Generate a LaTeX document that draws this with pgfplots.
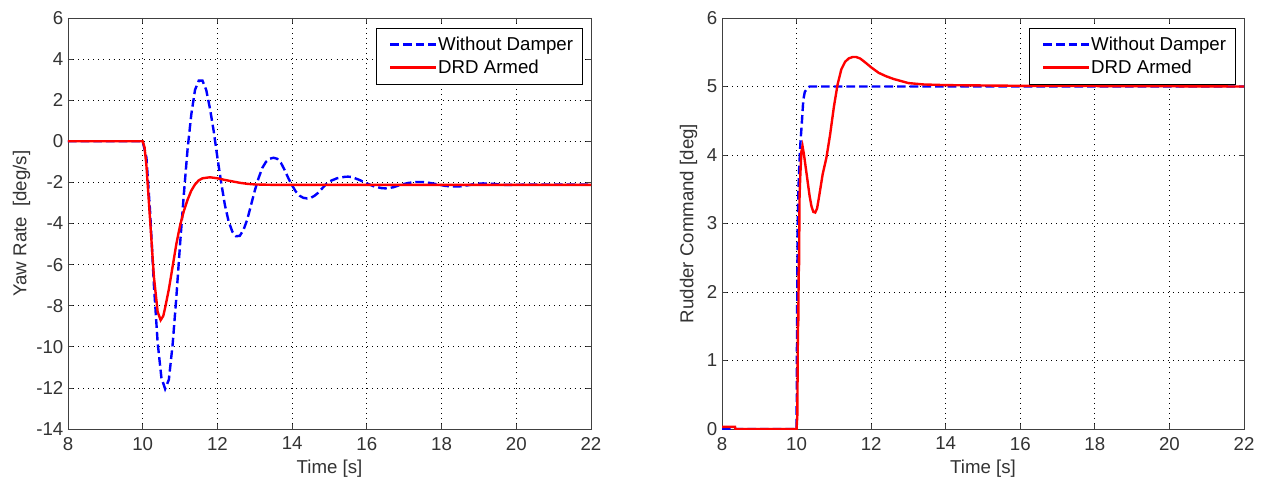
\documentclass[border=0pt]{standalone}
\usepackage{fontspec}
\setmainfont{Liberation Sans}
\usepackage{pgfplots}
\pgfplotsset{compat=1.18}
\definecolor{mblue}{RGB}{0,0,255}
\definecolor{mred}{RGB}{255,0,0}
\pgfplotsset{
  mstyle/.style={
    scale only axis,
    anchor=south west,
    width=392.25pt, height=308.25pt,
    xmin=8, xmax=22,
    xtick={8,10,12,14,16,18,20,22},
    xticklabels={8,10,12,14,16,18,20,22},
    grid=major,
    grid style={black, line width=0.6pt, dash pattern=on 0.6pt off 3.2pt},
    tick align=inside,
    major tick length=4pt,
    axis line style={black!75, line width=0.6pt},
    every tick/.style={black!75, line width=0.6pt},
    tick label style={font=\fontsize{14}{16}\selectfont, text=black!80},
    xticklabel style={yshift=-2.5pt},
    label style={font=\fontsize{14}{16}\selectfont, text=black!80},
    xlabel={Time [s]},
    xlabel style={at={(axis description cs:0.5,-0.097)}, anchor=center},
    legend cell align=left,
    legend style={font=\fontsize{14}{16}\selectfont, draw=black, fill=white,
      at={(0.9847,0.976)}, anchor=north east, inner xsep=5.25pt, inner ysep=4.5pt,
      row sep=1.5pt, column sep=0pt},
    legend image code/.code={%
      \pgfpathrectangle{\pgfpoint{-5.25pt}{-3pt}}{\pgfpoint{39.25pt}{6pt}}%
      \pgfusepath{use as bounding box}%
      \draw[#1] (0pt,0pt) -- (34pt,0pt);},
  },
  blueline/.style={color=mblue, line width=1.8pt, dash pattern=on 6.5pt off 3pt},
  redline/.style={color=mred, line width=1.8pt},
}
\begin{document}
\begin{tikzpicture}[x=0.75pt,y=0.75pt]
\useasboundingbox (0,0) rectangle (1261,479);
\fill[white] (0,0) rectangle (1261,479);
\begin{axis}[mstyle, at={(51pt,37.5pt)},
  ymin=-14, ymax=6,
  ytick={-14,-12,-10,-8,-6,-4,-2,0,2,4,6},
  yticklabels={-14,-12,-10,-8,-6,-4,-2,0,2,4,6},
  ylabel={Yaw Rate \ [deg/s]},
  ylabel style={at={(axis description cs:-0.089,0.5)}, anchor=center, rotate=0}]
\addplot[blueline] coordinates {
(8.0,0) (10.0,0) (10.1,-0.8) (10.2,-3.5) (10.3,-7.0) (10.4,-9.8) (10.5,-11.5)
(10.6,-12.05) (10.7,-11.6) (10.8,-9.9) (10.9,-7.6) (11.0,-5.0) (11.1,-2.6)
(11.2,-0.4) (11.3,1.3) (11.4,2.5) (11.5,2.95) (11.6,2.95) (11.7,2.5) (11.8,1.6)
(11.9,0.5) (12.0,-0.8) (12.1,-2.0) (12.2,-3.1) (12.3,-3.9) (12.4,-4.4) (12.5,-4.62)
(12.6,-4.6) (12.7,-4.3) (12.8,-3.8) (12.9,-3.1) (13.0,-2.4) (13.1,-1.8) (13.2,-1.3)
(13.3,-1.0) (13.4,-0.85) (13.5,-0.8) (13.6,-0.85) (13.7,-1.05) (13.8,-1.4) (13.9,-1.8)
(14.0,-2.15) (14.1,-2.45) (14.2,-2.65) (14.3,-2.75) (14.4,-2.78) (14.5,-2.75)
(14.6,-2.65) (14.7,-2.5) (14.8,-2.3) (14.9,-2.1) (15.0,-1.95) (15.2,-1.8) (15.4,-1.73)
(15.5,-1.72) (15.6,-1.74) (15.8,-1.88) (16.0,-2.05) (16.2,-2.2) (16.4,-2.28) (16.5,-2.29)
(16.7,-2.24) (16.9,-2.12) (17.1,-2.03) (17.3,-1.98) (17.5,-1.98) (17.7,-2.03)
(17.9,-2.1) (18.1,-2.17) (18.3,-2.2) (18.5,-2.19) (18.7,-2.14) (18.9,-2.08)
(19.1,-2.05) (19.3,-2.06) (19.5,-2.09) (19.7,-2.12) (19.9,-2.12) (20.2,-2.11) (22.0,-2.11)
};
\addlegendentry{Without Damper}
\addplot[redline] coordinates {
(8,0) (10.0,0) (10.05,-0.3) (10.1,-1.2) (10.2,-3.9) (10.3,-6.6) (10.4,-8.3)
(10.48,-8.7) (10.55,-8.5) (10.6,-8.1) (10.7,-7.2) (10.8,-6.1) (10.9,-5.0) (11.0,-4.1)
(11.1,-3.4) (11.2,-2.85) (11.3,-2.4) (11.4,-2.1) (11.5,-1.9) (11.6,-1.8) (11.8,-1.75)
(12.0,-1.8) (12.2,-1.88) (12.4,-1.95) (12.6,-2.02) (12.8,-2.07) (13.0,-2.1) (13.5,-2.12)
(22,-2.12)
};
\addlegendentry{DRD Armed}
\end{axis}
\begin{axis}[mstyle, at={(541.5pt,37.5pt)}, width=391.5pt,
  ymin=0, ymax=6,
  ytick={0,1,2,3,4,5,6},
  yticklabels={0,1,2,3,4,5,6},
  ylabel={Rudder Command [deg]},
  ylabel style={at={(axis description cs:-0.064,0.5)}, anchor=center, rotate=0}]
\addplot[blueline] coordinates {
(8,0) (10.0,0) (10.01,1.2) (10.02,2.2) (10.03,3.0) (10.05,3.5) (10.07,3.8) (10.1,4.15)
(10.14,4.46) (10.18,4.8) (10.22,4.92) (10.28,4.97) (10.35,5.0) (22,5.0)
};
\addlegendentry{Without Damper}
\addplot[redline] coordinates {
(8,0.03) (8.35,0.03) (8.36,0.0) (10.0,0) (10.02,0.2) (10.04,1.8) (10.045,1.5)
(10.06,2.5) (10.065,2.3) (10.08,3.4) (10.1,3.7) (10.13,4.05) (10.16,4.13) (10.2,4.0)
(10.25,3.8) (10.3,3.6) (10.35,3.4) (10.4,3.25) (10.45,3.17) (10.5,3.16) (10.55,3.22)
(10.6,3.38) (10.7,3.72) (10.8,3.96) (10.9,4.3) (11.0,4.7) (11.1,5.03) (11.2,5.25)
(11.3,5.36) (11.4,5.41) (11.5,5.43) (11.6,5.43) (11.7,5.41) (11.8,5.37) (12.0,5.28)
(12.2,5.2) (12.4,5.15) (12.6,5.11) (12.8,5.08) (13.0,5.05) (13.4,5.03) (14.0,5.02)
(16.0,5.01) (22,5.0)
};
\addlegendentry{DRD Armed}
\end{axis}
\end{tikzpicture}
\end{document}
